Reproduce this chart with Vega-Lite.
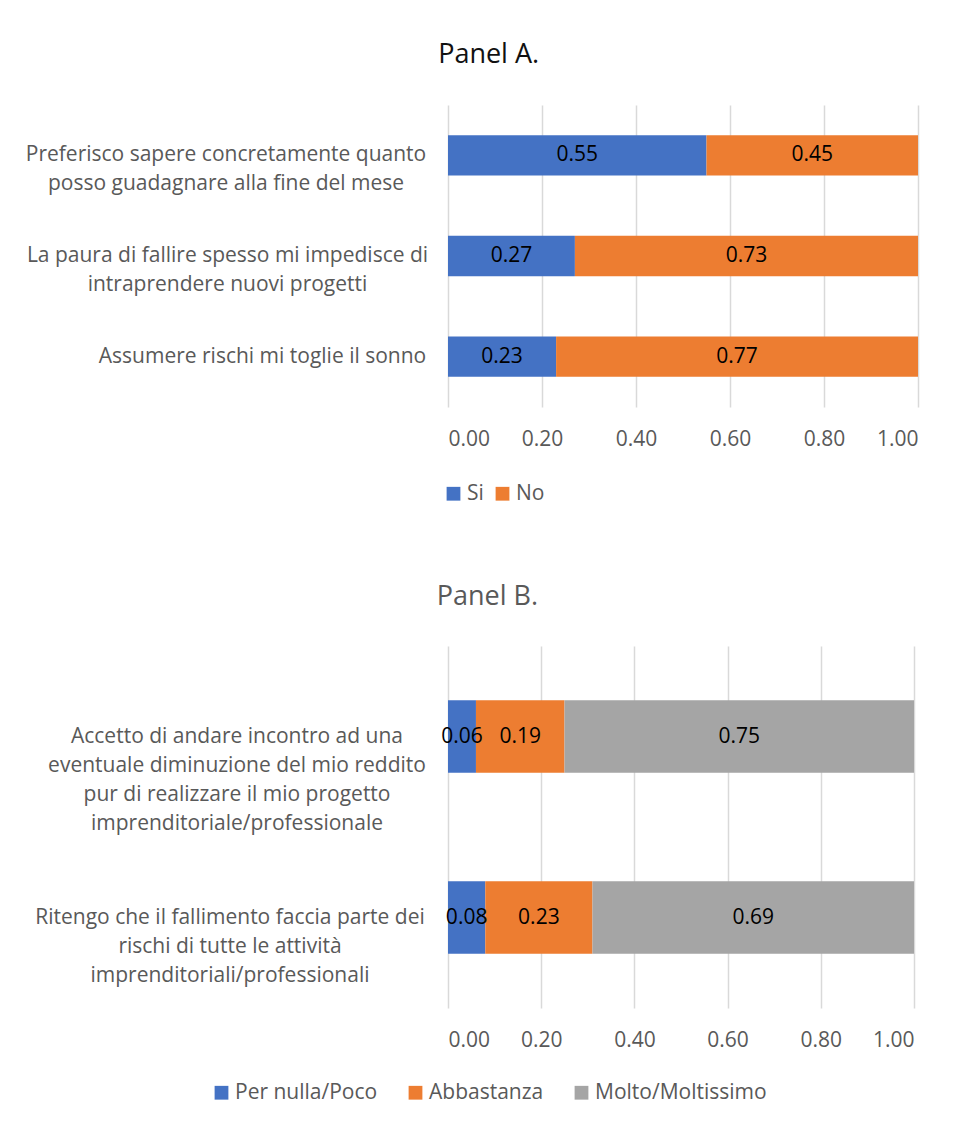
{
  "$schema": "https://vega.github.io/schema/vega-lite/v6.json",
  "background": "white",
  "padding": {"left": 25, "top": 41, "right": 10, "bottom": 10},
  "spacing": 79,
  "resolve": {"scale": {"color": "independent"}, "legend": {"color": "independent"}},
  "config": {
    "font": "Open Sans",
    "view": {"stroke": null},
    "axis": {
      "labelFont": "Open Sans",
      "labelFontSize": 21,
      "labelColor": "#595959",
      "domain": false,
      "ticks": false,
      "title": null
    },
    "title": {"font": "Open Sans", "fontSize": 27, "fontWeight": "normal"},
    "legend": {
      "labelFont": "Open Sans",
      "labelFontSize": 21,
      "labelColor": "#595959",
      "labelLimit": 0,
      "symbolType": "square",
      "symbolSize": 190,
      "symbolStrokeWidth": 0,
      "labelOffset": 3
    }
  },
  "vconcat": [
    {
      "title": {"text": "Panel A.", "anchor": "middle", "frame": "bounds", "color": "#111111", "offset": 36, "dx": 17},
      "width": 470,
      "height": 302,
      "data": {
        "values": [
          {"item": "Preferisco sapere concretamente quanto\nposso guadagnare alla fine del mese", "answer": "Si", "rank": 1, "share": 0.55},
          {"item": "Preferisco sapere concretamente quanto\nposso guadagnare alla fine del mese", "answer": "No", "rank": 2, "share": 0.45},
          {"item": "La paura di fallire spesso mi impedisce di\nintraprendere nuovi progetti", "answer": "Si", "rank": 1, "share": 0.27},
          {"item": "La paura di fallire spesso mi impedisce di\nintraprendere nuovi progetti", "answer": "No", "rank": 2, "share": 0.73},
          {"item": "Assumere rischi mi toglie il sonno", "answer": "Si", "rank": 1, "share": 0.23},
          {"item": "Assumere rischi mi toglie il sonno", "answer": "No", "rank": 2, "share": 0.77}
        ]
      },
      "transform": [
        {"stack": "share", "groupby": ["item"], "sort": [{"field": "rank"}], "as": ["lo", "hi"]}
      ],
      "encoding": {
        "y": {
          "field": "item",
          "type": "nominal",
          "sort": null,
          "scale": {"paddingInner": 0.6, "paddingOuter": 0.3},
          "axis": {
            "labelExpr": "split(datum.label, '\\n')",
            "labelLimit": 0,
            "labelAlign": "center",
            "labelLineHeight": 29,
            "labelPadding": {
              "condition": [
                {"test": "indexof(datum.value, 'Assumere') >= 0", "value": 186},
                {"test": "indexof(datum.value, 'La paura') >= 0", "value": 221}
              ],
              "value": 222.5
            }
          }
        }
      },
      "layer": [
        {
          "mark": {"type": "bar"},
          "encoding": {
            "x": {
              "field": "lo",
              "type": "quantitative",
              "scale": {"domain": [0, 1], "nice": false},
              "axis": {
                "values": [0, 0.2, 0.4, 0.6, 0.8, 1],
                "format": ".2f",
                "grid": true,
                "gridColor": "#D9D9D9",
                "gridWidth": 1.5,
                "labelPadding": 21
              }
            },
            "x2": {"field": "hi"},
            "color": {
              "field": "answer",
              "type": "nominal",
              "scale": {"domain": ["Si", "No"], "range": ["#4472C4", "#ED7D31"]},
              "legend": {
                "title": null,
                "orient": "none",
                "direction": "horizontal",
                "legendX": -5,
                "legendY": 378,
                "columnPadding": 8
              }
            }
          }
        },
        {
          "transform": [
            {"fold": ["lo", "hi"], "as": ["edge", "pos"]},
            {"aggregate": [{"op": "mean", "field": "pos", "as": "mid"}], "groupby": ["item", "answer", "share"]}
          ],
          "mark": {"type": "text", "fontSize": 21, "color": "#000000", "font": "Open Sans"},
          "encoding": {
            "x": {"field": "mid", "type": "quantitative"},
            "text": {"field": "share", "type": "quantitative", "format": ".2f"}
          }
        }
      ]
    },
    {
      "title": {"text": "Panel B.", "anchor": "middle", "frame": "bounds", "color": "#595959", "offset": 35, "dx": 13},
      "width": 466,
      "height": 362,
      "data": {
        "values": [
          {"item": "Accetto di andare incontro ad una\neventuale diminuzione del mio reddito\npur di realizzare il mio progetto\nimprenditoriale/professionale", "answer": "Per nulla/Poco", "rank": 1, "share": 0.06},
          {"item": "Accetto di andare incontro ad una\neventuale diminuzione del mio reddito\npur di realizzare il mio progetto\nimprenditoriale/professionale", "answer": "Abbastanza", "rank": 2, "share": 0.19},
          {"item": "Accetto di andare incontro ad una\neventuale diminuzione del mio reddito\npur di realizzare il mio progetto\nimprenditoriale/professionale", "answer": "Molto/Moltissimo", "rank": 3, "share": 0.75},
          {"item": "Ritengo che il fallimento faccia parte dei\nrischi di tutte le attività\nimprenditoriali/professionali", "answer": "Per nulla/Poco", "rank": 1, "share": 0.08},
          {"item": "Ritengo che il fallimento faccia parte dei\nrischi di tutte le attività\nimprenditoriali/professionali", "answer": "Abbastanza", "rank": 2, "share": 0.23},
          {"item": "Ritengo che il fallimento faccia parte dei\nrischi di tutte le attività\nimprenditoriali/professionali", "answer": "Molto/Moltissimo", "rank": 3, "share": 0.69}
        ]
      },
      "transform": [
        {"stack": "share", "groupby": ["item"], "sort": [{"field": "rank"}], "as": ["lo", "hi"]}
      ],
      "encoding": {
        "y": {
          "field": "item",
          "type": "nominal",
          "sort": null,
          "scale": {"paddingInner": 0.6, "paddingOuter": 0.3},
          "axis": {
            "labelExpr": "split(datum.label, '\\n')",
            "labelLimit": 0,
            "labelAlign": "center",
            "labelLineHeight": 29,
            "labelPadding": {
              "condition": {"test": "indexof(datum.value, 'Ritengo') >= 0", "value": 218.5},
              "value": 211.5
            }
          }
        }
      },
      "layer": [
        {
          "mark": {"type": "bar"},
          "encoding": {
            "x": {
              "field": "lo",
              "type": "quantitative",
              "scale": {"domain": [0, 1], "nice": false},
              "axis": {
                "values": [0, 0.2, 0.4, 0.6, 0.8, 1],
                "format": ".2f",
                "grid": true,
                "gridColor": "#D9D9D9",
                "gridWidth": 1.5,
                "labelPadding": 21
              }
            },
            "x2": {"field": "hi"},
            "color": {
              "field": "answer",
              "type": "nominal",
              "scale": {"domain": ["Per nulla/Poco", "Abbastanza", "Molto/Moltissimo"], "range": ["#4472C4", "#ED7D31", "#A5A5A5"]},
              "legend": {
                "title": null,
                "orient": "none",
                "direction": "horizontal",
                "legendX": -237,
                "legendY": 436,
                "columnPadding": 27
              }
            }
          }
        },
        {
          "transform": [
            {"fold": ["lo", "hi"], "as": ["edge", "pos"]},
            {"aggregate": [{"op": "mean", "field": "pos", "as": "mid"}], "groupby": ["item", "answer", "share"]}
          ],
          "mark": {"type": "text", "fontSize": 21, "color": "#000000", "font": "Open Sans"},
          "encoding": {
            "x": {"field": "mid", "type": "quantitative"},
            "text": {"field": "share", "type": "quantitative", "format": ".2f"}
          }
        }
      ]
    }
  ]
}
